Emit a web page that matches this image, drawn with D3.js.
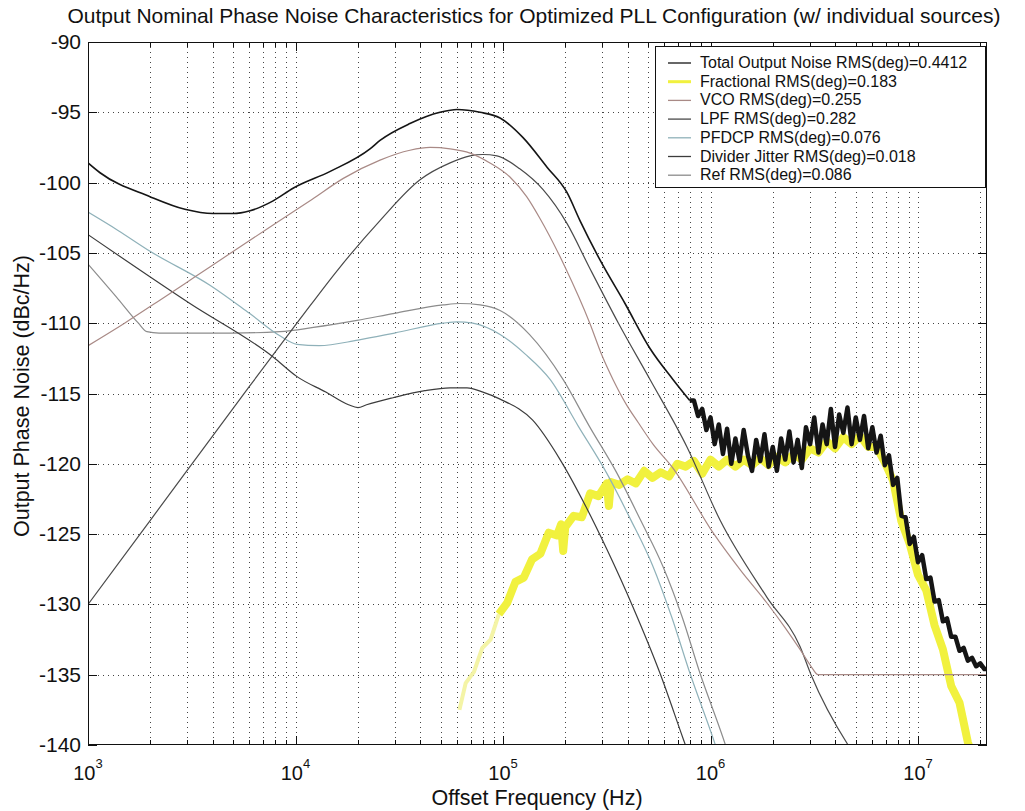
<!DOCTYPE html>
<html>
<head>
<meta charset="utf-8">
<script src="https://cdn.jsdelivr.net/npm/d3@7"></script>
<style>
  body { margin: 0; background: #fff; }
  svg { display: block; font-family: "Liberation Sans", Arial, Helvetica, sans-serif; }
</style>
</head>
<body>
<svg id="chart" width="1025" height="811"></svg>
<script>
// ---- Phase-noise data: [offset frequency (Hz), level (dBc/Hz)] ----

// Total output noise, smooth low-offset part
const totalLow = [
  [1000,-98.6],[1143,-99.3],[1990,-101.0],[2930,-101.9],[4000,-102.2],[5000,-102.2],
  [6040,-102.0],[7800,-101.3],[9730,-100.4],[14700,-99.2],[22860,-97.6],[25540,-97.0],
  [35600,-95.8],[49700,-95.0],[60000,-94.8],[77500,-95.0],[96800,-95.4],[124900,-96.8],
  [163000,-98.9],[203300,-100.7],[234900,-102.7],[293300,-105.5],[387200,-108.6],
  [511000,-111.8],[659000,-114.0],[794300,-115.5]
];

// Total output noise, measured (noisy) high-offset part
const totalHigh = [
  [794300,-115.5],[831800,-115.5],[871000,-116.6],[912000,-116.1],[955000,-117.6],
  [1000000,-116.7],[1047000,-118.6],[1096000,-117.2],[1148000,-119.3],[1202000,-117.5],
  [1259000,-120.0],[1318000,-118.2],[1380000,-119.8],[1445000,-117.6],[1514000,-119.4],
  [1585000,-120.5],[1660000,-118.3],[1738000,-119.8],[1820000,-117.9],[1905000,-120.2],
  [1995000,-118.8],[2089000,-120.5],[2188000,-118.2],[2291000,-119.7],[2399000,-117.7],
  [2512000,-119.9],[2630000,-118.3],[2754000,-120.3],[2884000,-117.4],[3020000,-118.6],
  [3162000,-116.7],[3311000,-119.2],[3467000,-117.2],[3631000,-118.6],[3802000,-116.1],
  [3981000,-118.8],[4169000,-116.5],[4365000,-117.8],[4571000,-116.0],[4786000,-118.6],
  [5012000,-116.7],[5248000,-118.3],[5495000,-116.6],[5754000,-118.9],[6026000,-117.4],
  [6310000,-119.2],[6607000,-118.0],[6918000,-120.1],[7244000,-119.4],[7586000,-121.5],
  [7943000,-121.0],[8318000,-123.7],[8710000,-123.8],[9120000,-125.7],[9550000,-125.2],
  [10000000,-127.0],[10470000,-126.5],[10960000,-128.2],[11480000,-128.1],[12020000,-129.8],
  [12590000,-129.7],[13180000,-131.2],[13800000,-131.0],[14450000,-132.3],[15140000,-132.3],
  [15850000,-133.3],[16600000,-133.1],[17380000,-134.0],[18200000,-133.8],[19050000,-134.4],
  [19950000,-134.2],[20890000,-134.6],[21880000,-134.6]
];

// Fractional (sigma-delta) noise
const fractional = [
  [61660,-137.5],[66070,-135.6],[72440,-134.8],[79430,-133.1],[87100,-132.5],[95500,-130.7],
  [104700,-129.9],[114800,-128.4],[125900,-128.1],[138000,-126.8],[151400,-126.4],
  [166000,-124.9],[182000,-125.1],[190500,-124.3],[195000,-126.2],[199500,-124.5],
  [218800,-123.7],[239900,-123.8],[263000,-122.1],[288400,-122.3],[316200,-121.4],
  [323600,-123.0],[331100,-121.3],[363100,-121.5],[398100,-121.1],[436500,-121.4],
  [478600,-120.5],[524800,-121.0],[575400,-120.6],[631000,-120.9],[691800,-120.0],
  [758600,-120.2],[831800,-119.8],[912000,-120.7],[1000000,-119.7],[1096000,-120.2],
  [1202000,-119.7],[1318000,-120.2],[1445000,-119.7],[1585000,-120.1],[1738000,-119.6],
  [1905000,-120.1],[2089000,-119.5],[2291000,-119.9],[2512000,-119.3],[2754000,-119.7],
  [3020000,-118.9],[3311000,-119.2],[3631000,-118.4],[3981000,-118.9],[4365000,-118.1],
  [4786000,-118.6],[5248000,-118.0],[5754000,-118.8],[6310000,-118.8],[6918000,-119.9],
  [7586000,-121.2],[8318000,-124.1],[9120000,-125.7],[10000000,-127.9],[10960000,-129.0],
  [12020000,-131.5],[13180000,-133.2],[14450000,-135.8],[15850000,-137.0],[17380000,-139.8],
  [19050000,-141.5]
];

// VCO noise
const vco = [
  [1000,-111.6],[1500,-110.0],[2200,-108.4],[3280,-106.7],[5000,-104.9],[8410,-102.7],
  [12000,-101.2],[17000,-99.7],[25540,-98.4],[35600,-97.7],[44500,-97.5],[55600,-97.6],
  [69400,-97.9],[86500,-98.6],[108000,-99.6],[130000,-101.0],[150000,-102.5],[199000,-106.0],
  [262000,-110.0],[300000,-112.3],[338800,-114.0],[390000,-115.7],[450000,-117.1],
  [528000,-118.6],[659000,-120.3],[1028000,-124.9],[1400000,-127.6],[1871000,-129.9],
  [2300000,-131.7],[2700000,-133.2],[3050000,-134.4],[3300000,-135.0],[21540000,-135.0]
];

// Loop-filter (LPF) noise
const lpf = [
  [1000,-130.0],[2000,-124.0],[5400,-115.4],[10520,-109.7],[16000,-106.2],[25540,-102.7],
  [39800,-99.8],[55600,-98.6],[69400,-98.1],[80000,-98.0],[93500,-98.1],[120000,-99.0],
  [156000,-100.5],[203300,-102.9],[260000,-106.0],[360000,-110.0],[511000,-114.0],
  [770000,-118.8],[1111000,-124.0],[1871000,-129.5],[2700000,-133.0],[3050000,-135.0],
  [4603000,-140.0],[5000000,-140.8]
];

// PFD / charge-pump noise
const pfdcp = [
  [1000,-102.1],[1395,-103.4],[2000,-104.9],[3870,-107.3],[6000,-109.3],[8410,-110.9],
  [10170,-111.5],[13000,-111.6],[20000,-111.2],[30000,-110.7],[51500,-110.0],[60000,-109.9],
  [71500,-110.0],[96800,-110.8],[128000,-112.2],[168600,-114.0],[230000,-117.3],
  [317000,-120.7],[410000,-123.9],[528200,-127.3],[650000,-130.9],[796000,-134.9],
  [1028000,-139.5],[1100000,-140.8]
];

// Divider jitter
const divider = [
  [1000,-103.7],[3100,-108.6],[7800,-112.4],[10170,-113.8],[14000,-114.9],[18000,-115.8],
  [20000,-116.0],[22000,-115.8],[29500,-115.3],[42000,-114.8],[55600,-114.6],[67100,-114.6],
  [80000,-114.9],[96800,-115.4],[139000,-116.9],[188400,-119.7],[250000,-123.0],
  [317000,-126.1],[423300,-130.2],[571000,-134.9],[736000,-139.5],[800000,-141.0]
];

// Reference noise
const ref = [
  [1000,-105.8],[1400,-108.3],[1750,-110.0],[1923,-110.6],[2200,-110.7],[5000,-110.7],
  [8410,-110.6],[12200,-110.3],[19800,-109.8],[30000,-109.3],[51500,-108.7],[62000,-108.6],
  [77500,-108.7],[96800,-109.1],[134000,-110.8],[194600,-114.0],[260000,-117.3],
  [355000,-120.7],[460000,-124.0],[590000,-127.3],[730000,-130.9],[890000,-134.9],
  [1150000,-139.5],[1230000,-140.8]
];

const legendLabels = [
  "Total Output Noise RMS(deg)=0.4412",
  "Fractional RMS(deg)=0.183",
  "VCO RMS(deg)=0.255",
  "LPF RMS(deg)=0.282",
  "PFDCP RMS(deg)=0.076",
  "Divider Jitter RMS(deg)=0.018",
  "Ref RMS(deg)=0.086"
];

const xTickValues = [1e3, 1e4, 1e5, 1e6, 1e7];
const xTickExponents = ["3", "4", "5", "6", "7"];
const yTickValues = [-140, -135, -130, -125, -120, -115, -110, -105, -100, -95, -90];

const titleText = "Output Nominal Phase Noise Characteristics for Optimized PLL Configuration (w/ individual sources)";
const xLabelText = "Offset Frequency (Hz)";
const yLabelText = "Output Phase Noise (dBc/Hz)";

// ---- Layout ----
const W = 1025, H = 811;
const box = { left: 88, right: 987, top: 42, bottom: 745 };

const x = d3.scaleLog().domain([1e3, 2.15e7]).range([box.left, box.right]);
const y = d3.scaleLinear().domain([-140, -90]).range([box.bottom, box.top]);

const svg = d3.select("#chart");
svg.append("rect").attr("width", W).attr("height", H).attr("fill", "#fff");

svg.append("defs").append("clipPath").attr("id", "plotClip")
  .append("rect")
  .attr("x", box.left).attr("y", box.top)
  .attr("width", box.right - box.left).attr("height", box.bottom - box.top);

// ---- Grid (dotted, major + minor decades) ----
const xMinor = [];
for (let e = 3; e <= 7; e++) {
  for (let m = 1; m <= 9; m++) {
    const v = m * Math.pow(10, e);
    if (v > x.domain()[0] && v < x.domain()[1]) xMinor.push(v);
  }
}
const grid = svg.append("g").attr("stroke", "#444").attr("stroke-width", 1)
  .attr("stroke-dasharray", "1,4");
grid.selectAll("line.vg").data(xMinor).join("line")
  .attr("x1", d => Math.round(x(d)) + 0.5).attr("x2", d => Math.round(x(d)) + 0.5)
  .attr("y1", box.top).attr("y2", box.bottom);
grid.selectAll("line.hg").data(yTickValues.slice(1, -1)).join("line")
  .attr("y1", d => Math.round(y(d)) + 0.5).attr("y2", d => Math.round(y(d)) + 0.5)
  .attr("x1", box.left).attr("x2", box.right);

// ---- Curves ----
const smooth = d3.line().x(d => x(d[0])).y(d => y(d[1])).curve(d3.curveMonotoneX);
const jagged = d3.line().x(d => x(d[0])).y(d => y(d[1]));
const curves = svg.append("g").attr("clip-path", "url(#plotClip)").attr("fill", "none");

// fractional noise: pale at the start, bright yellow band after
curves.append("path").datum(fractional.filter(d => d[0] <= 96000))
  .attr("d", jagged).attr("stroke", "#f4f4a6").attr("stroke-width", 4)
  .attr("stroke-linejoin", "round");
curves.append("path").datum(fractional.filter(d => d[0] >= 95500))
  .attr("d", jagged).attr("stroke", "#f1f13e").attr("stroke-width", 8)
  .attr("stroke-linejoin", "round");

const components = [
  { data: ref,     color: "#8c8c8c" },
  { data: divider, color: "#3c3c3c" },
  { data: pfdcp,   color: "#8fb1b9" },
  { data: lpf,     color: "#4a4a4a" },
  { data: vco,     color: "#a98a86" }
];
components.forEach(c => {
  curves.append("path").datum(c.data).attr("d", smooth)
    .attr("stroke", c.color).attr("stroke-width", 1.2);
});

curves.append("path").datum(totalLow).attr("d", smooth)
  .attr("stroke", "#151515").attr("stroke-width", 1.6);
curves.append("path").datum(totalHigh).attr("d", jagged)
  .attr("stroke", "#151515").attr("stroke-width", 4.5).attr("stroke-linejoin", "round");

// ---- Axes box and ticks (inward, on all four sides) ----
const axes = svg.append("g").attr("stroke", "#111").attr("stroke-width", 1);
axes.append("rect")
  .attr("x", box.left + 0.5).attr("y", box.top + 0.5)
  .attr("width", box.right - box.left - 1).attr("height", box.bottom - box.top - 1)
  .attr("fill", "none");

const majorLen = 9, minorLen = 5;
xMinor.forEach(v => {
  const isMajor = xTickValues.includes(v);
  const len = isMajor ? majorLen : minorLen;
  const px = Math.round(x(v)) + 0.5;
  axes.append("line").attr("x1", px).attr("x2", px).attr("y1", box.bottom).attr("y2", box.bottom - len);
  axes.append("line").attr("x1", px).attr("x2", px).attr("y1", box.top).attr("y2", box.top + len);
});
yTickValues.forEach(v => {
  const py = Math.round(y(v)) + 0.5;
  axes.append("line").attr("x1", box.left).attr("x2", box.left + majorLen).attr("y1", py).attr("y2", py);
  axes.append("line").attr("x1", box.right).attr("x2", box.right - majorLen).attr("y1", py).attr("y2", py);
});

// ---- Tick labels ----
const labels = svg.append("g").attr("fill", "#111");
labels.selectAll("text.yt").data(yTickValues).join("text")
  .attr("x", box.left - 7).attr("y", d => y(d) + 7)
  .attr("text-anchor", "end").attr("font-size", 21)
  .text(d => d);

const xt = labels.selectAll("text.xt").data(xTickValues).join("text")
  .attr("x", d => x(d)).attr("y", 780)
  .attr("text-anchor", "middle").attr("font-size", 20);
xt.append("tspan").text("10");
xt.append("tspan").attr("dy", -12).attr("font-size", 13)
  .text((d, i) => xTickExponents[i]);

// ---- Title and axis labels ----
svg.append("text").attr("x", 534).attr("y", 23).attr("text-anchor", "middle")
  .attr("font-size", 21).attr("fill", "#111").text(titleText);
svg.append("text").attr("x", 537).attr("y", 805).attr("text-anchor", "middle")
  .attr("font-size", 21.5).attr("fill", "#111").text(xLabelText);
svg.append("text").attr("transform", "translate(29,396) rotate(-90)")
  .attr("text-anchor", "middle").attr("font-size", 21.5).attr("fill", "#111").text(yLabelText);

// ---- Legend ----
const legendColors = ["#151515", "#f1f13e", "#a98a86", "#4a4a4a", "#8fb1b9", "#3c3c3c", "#8c8c8c"];
const lg = svg.append("g").attr("transform", "translate(655,46)");
lg.append("rect").attr("x", 0.5).attr("y", 0.5).attr("width", 330).attr("height", 141)
  .attr("fill", "#fff").attr("stroke", "#111");
legendLabels.forEach((t, i) => {
  const ry = 17 + i * 18.7;
  lg.append("line").attr("x1", 13).attr("x2", 36).attr("y1", ry).attr("y2", ry)
    .attr("stroke", legendColors[i]).attr("stroke-width", i === 1 ? 3 : 1.3);
  lg.append("text").attr("x", 45).attr("y", ry + 5).attr("font-size", 16)
    .attr("fill", "#111").text(t);
});
</script>
</body>
</html>
